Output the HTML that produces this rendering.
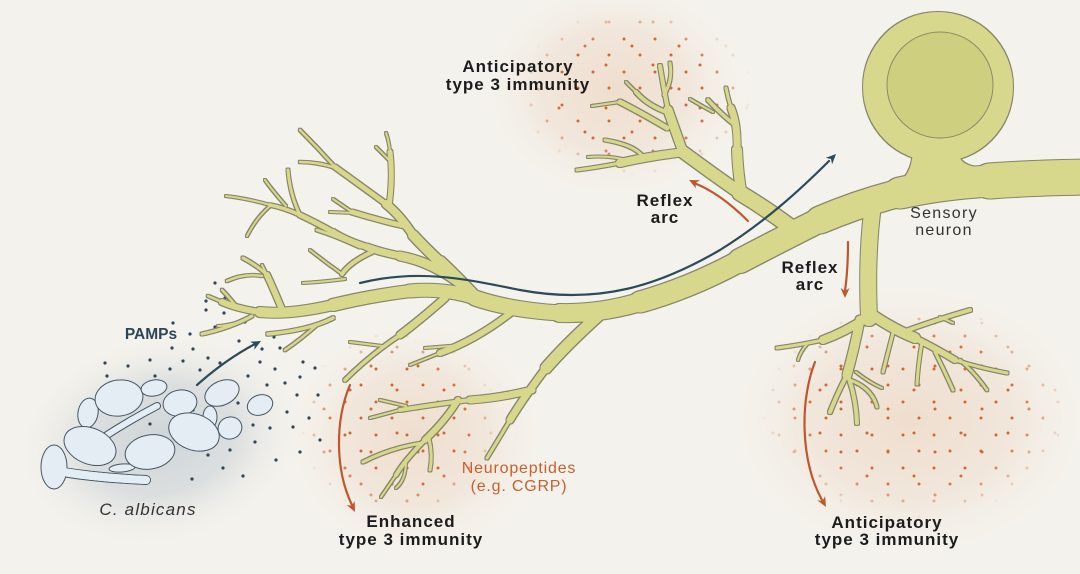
<!DOCTYPE html>
<html>
<head>
<meta charset="utf-8">
<style>
html,body{margin:0;padding:0;background:#f4f2ec;}
svg{display:block;}
.lb{font-family:"Liberation Sans",Arial,sans-serif;font-weight:bold;font-size:17px;fill:#1c1c1c;letter-spacing:1px;}
</style>
</head>
<body>
<svg width="1080" height="574" viewBox="0 0 1080 574" xmlns="http://www.w3.org/2000/svg">
<defs>
  <radialGradient id="gOr">
    <stop offset="0" stop-color="#eedac8" stop-opacity="0.85"/>
    <stop offset="0.55" stop-color="#efdfd0" stop-opacity="0.6"/>
    <stop offset="1" stop-color="#f4f2ec" stop-opacity="0"/>
  </radialGradient>
  <radialGradient id="gGr">
    <stop offset="0" stop-color="#cfd5d8" stop-opacity="1"/>
    <stop offset="0.5" stop-color="#d6dbdc" stop-opacity="0.85"/>
    <stop offset="1" stop-color="#f4f2ec" stop-opacity="0"/>
  </radialGradient>
  <radialGradient id="gMask">
    <stop offset="0" stop-color="#fff"/>
    <stop offset="0.65" stop-color="#fff"/>
    <stop offset="1" stop-color="#000"/>
  </radialGradient>
  <pattern id="dp1" width="31" height="33" patternUnits="userSpaceOnUse">
    <circle cx="4" cy="6" r="1.5" fill="#cf6934"/>
    <circle cx="20" cy="22" r="1.5" fill="#cf6934"/>
  </pattern>
  <pattern id="dp2" width="47" height="43" patternUnits="userSpaceOnUse" patternTransform="translate(9,13)">
    <circle cx="33" cy="9" r="1.5" fill="#cf6934"/>
    <circle cx="12" cy="33" r="1.5" fill="#cf6934"/>
  </pattern>
  <mask id="mTop" maskUnits="userSpaceOnUse" x="0" y="0" width="1080" height="574">
    <ellipse cx="635" cy="92" rx="118" ry="84" fill="url(#gMask)"/>
  </mask>
  <mask id="mEnh" maskUnits="userSpaceOnUse" x="0" y="0" width="1080" height="574">
    <ellipse cx="400" cy="425" rx="100" ry="95" fill="url(#gMask)"/>
  </mask>
  <mask id="mBR" maskUnits="userSpaceOnUse" x="0" y="0" width="1080" height="574">
    <ellipse cx="915" cy="412" rx="155" ry="108" fill="url(#gMask)"/>
  </mask>
  <filter id="outl" x="-5%" y="-5%" width="110%" height="110%">
    <feMorphology in="SourceAlpha" operator="dilate" radius="1" result="d"/>
    <feFlood flood-color="#86866a" result="c"/>
    <feComposite in="c" in2="d" operator="in"/>
  </filter>

  <g id="tree" fill="none" stroke="#d8d88c" stroke-linecap="round" stroke-linejoin="round">
    <circle cx="938" cy="87" r="75" fill="#d8d88c" stroke="none"/>
    <path d="M893,186 Q912,178 913,150 L958,150 Q958,168 985,167 L985,186 Z" fill="#d8d88c" stroke="none"/>
    <path d="M1090,177 Q1030,178 990,181" stroke-width="35"/>
    <path d="M990,181 Q940,184 900,193" stroke-width="31"/>
    <path d="M900,193 Q860,203 820,220" stroke-width="27"/>
    <path d="M820,220 Q780,240 740,261" stroke-width="24"/>
    <path d="M740,261 Q690,288 640,302" stroke-width="21"/>
    <path d="M640,302 Q600,314 560,313" stroke-width="18"/>
    <path d="M560,313 Q510,310 475,298" stroke-width="15"/>
    <path d="M475,298 Q445,288 410,291" stroke-width="13"/>
    <path d="M410,291 Q370,296 333,305" stroke-width="12"/>
    <path d="M333,305 Q290,315 260,312" stroke-width="10"/>
    <path d="M260,312 Q238,309 222,302" stroke-width="6"/>
    <path d="M222,302 L208,296" stroke-width="2.5"/>
    <path d="M236,306 Q228,296 222,290" stroke-width="2.5"/>
    <path d="M252,316 Q230,328 202,334" stroke-width="3"/>
    <path d="M240,322 Q225,326 218,326" stroke-width="2"/>
    <path d="M283,312 Q275,292 267,275" stroke-width="6"/>
    <path d="M267,275 Q258,266 243,258" stroke-width="3"/>
    <path d="M267,275 L262,265" stroke-width="2"/>
    <path d="M262,276 Q245,273 227,281" stroke-width="2.5"/>
    <path d="M333,318 Q310,330 268,334" stroke-width="3.5"/>
    <path d="M318,324 Q300,340 285,350" stroke-width="2.5"/>
    <path d="M472,294 Q455,276 440,262" stroke-width="12"/>
    <path d="M440,262 Q425,248 413,235" stroke-width="10"/>
    <path d="M413,235 Q400,215 386,204" stroke-width="8"/>
    <path d="M386,204 Q360,185 335,167" stroke-width="5"/>
    <path d="M335,167 Q318,148 300,130" stroke-width="2.5"/>
    <path d="M336,168 Q318,162 300,162" stroke-width="2.5"/>
    <path d="M389,206 Q393,178 390,152" stroke-width="5"/>
    <path d="M390,152 Q389,141 386,133" stroke-width="2"/>
    <path d="M391,162 L376,147" stroke-width="2"/>
    <path d="M404,226 Q378,220 352,212" stroke-width="5"/>
    <path d="M352,212 L333,199" stroke-width="2"/>
    <path d="M354,213 L330,212" stroke-width="2"/>
    <path d="M462,285 Q432,262 400,256" stroke-width="9"/>
    <path d="M400,256 Q380,252 367,247" stroke-width="7"/>
    <path d="M367,247 Q345,240 333,232" stroke-width="6"/>
    <path d="M333,232 Q315,222 300,215" stroke-width="5"/>
    <path d="M300,215 Q285,208 270,205" stroke-width="3.5"/>
    <path d="M270,205 Q250,199 226,196" stroke-width="2"/>
    <path d="M300,215 Q290,195 288,170" stroke-width="3"/>
    <path d="M286,206 Q272,190 265,180" stroke-width="2"/>
    <path d="M270,206 Q256,218 247,236" stroke-width="2"/>
    <path d="M360,247 Q336,236 317,230" stroke-width="3"/>
    <path d="M372,252 Q350,262 342,274" stroke-width="4"/>
    <path d="M342,274 Q325,262 310,250" stroke-width="2"/>
    <path d="M345,279 Q322,282 303,283" stroke-width="2"/>
    <path d="M445,298 Q420,320 400,335" stroke-width="7"/>
    <path d="M400,335 Q370,355 345,380" stroke-width="3.5"/>
    <path d="M382,346 L350,342" stroke-width="2"/>
    <path d="M512,312 Q476,340 440,353" stroke-width="6"/>
    <path d="M440,353 L410,365" stroke-width="2"/>
    <path d="M462,345 L425,348" stroke-width="2"/>
    <path d="M598,316 Q566,345 546,368" stroke-width="11"/>
    <path d="M546,368 Q522,400 510,420" stroke-width="7"/>
    <path d="M510,420 Q495,445 487,458" stroke-width="3"/>
    <path d="M532,390 Q500,398 470,400" stroke-width="7"/>
    <path d="M470,400 Q430,405 400,410" stroke-width="4"/>
    <path d="M400,410 L370,418" stroke-width="2"/>
    <path d="M406,406 L380,400" stroke-width="2"/>
    <path d="M458,400 Q446,420 425,440" stroke-width="6"/>
    <path d="M425,440 Q405,460 396,475" stroke-width="4"/>
    <path d="M396,475 L381,497" stroke-width="2"/>
    <path d="M422,443 Q390,448 363,462" stroke-width="3"/>
    <path d="M429,439 Q433,455 430,470" stroke-width="3"/>
    <path d="M406,461 Q406,480 396,488" stroke-width="2"/>
    <path d="M792,228 Q765,208 740,193" stroke-width="15"/>
    <path d="M740,193 Q710,172 683,152" stroke-width="12"/>
    <path d="M742,196 Q738,175 737,150" stroke-width="10"/>
    <path d="M737,150 Q738,125 731,108" stroke-width="7"/>
    <path d="M731,108 Q728,98 726,88" stroke-width="3"/>
    <path d="M735,125 Q722,115 708,100" stroke-width="3.5"/>
    <path d="M713,112 Q700,105 690,99" stroke-width="2"/>
    <path d="M683,152 Q675,130 668,110" stroke-width="9"/>
    <path d="M668,110 Q664,90 660,66" stroke-width="4"/>
    <path d="M664,95 Q673,80 670,63" stroke-width="3"/>
    <path d="M669,113 Q648,106 636,92" stroke-width="4"/>
    <path d="M636,92 L626,82" stroke-width="2"/>
    <path d="M667,128 Q640,112 620,102" stroke-width="5"/>
    <path d="M620,102 L592,106" stroke-width="2"/>
    <path d="M685,152 Q650,156 620,163" stroke-width="8"/>
    <path d="M620,163 Q600,167 577,170" stroke-width="3"/>
    <path d="M643,157 Q635,145 605,140" stroke-width="3"/>
    <path d="M630,161 Q610,155 588,157" stroke-width="2"/>
    <path d="M874,198 Q866,250 869,318" stroke-width="16"/>
    <path d="M866,318 Q845,332 823,340" stroke-width="8"/>
    <path d="M823,340 Q800,345 777,348" stroke-width="3"/>
    <path d="M808,343 Q800,352 798,360" stroke-width="2"/>
    <path d="M860,320 Q854,350 847,375" stroke-width="9"/>
    <path d="M847,375 Q838,392 830,412" stroke-width="4"/>
    <path d="M848,376 Q856,398 857,423" stroke-width="4"/>
    <path d="M850,380 Q872,388 877,407" stroke-width="3"/>
    <path d="M856,372 Q870,383 882,388" stroke-width="2"/>
    <path d="M874,316 Q895,330 915,338" stroke-width="10"/>
    <path d="M915,338 Q935,348 955,360" stroke-width="6"/>
    <path d="M955,360 Q980,368 1007,373" stroke-width="3"/>
    <path d="M900,333 Q935,320 970,310" stroke-width="4"/>
    <path d="M940,317 L953,323" stroke-width="2"/>
    <path d="M893,333 Q888,352 883,372" stroke-width="3"/>
    <path d="M922,342 Q918,365 917,384" stroke-width="3"/>
    <path d="M935,352 Q945,372 953,390" stroke-width="3"/>
    <path d="M960,360 Q975,373 987,390" stroke-width="2.5"/>
  </g>
</defs>

<rect width="1080" height="574" fill="#f4f2ec"/>

<ellipse cx="160" cy="440" rx="150" ry="108" transform="rotate(-12 160 440)" fill="url(#gGr)"/>
<ellipse cx="615" cy="90" rx="135" ry="112" fill="url(#gOr)"/>
<ellipse cx="415" cy="438" rx="132" ry="122" fill="url(#gOr)"/>
<ellipse cx="910" cy="420" rx="185" ry="142" fill="url(#gOr)"/>

<g mask="url(#mTop)"><rect width="1080" height="574" fill="url(#dp1)"/><rect width="1080" height="574" fill="url(#dp2)"/></g>
<g mask="url(#mEnh)"><rect width="1080" height="574" fill="url(#dp1)"/><rect width="1080" height="574" fill="url(#dp2)"/></g>
<g mask="url(#mBR)"><rect width="1080" height="574" fill="url(#dp1)"/><rect width="1080" height="574" fill="url(#dp2)"/></g>

<g fill="#2e4657">
<circle cx="206" cy="301" r="1.6"/><circle cx="224" cy="313" r="1.6"/><circle cx="173" cy="323" r="1.6"/><circle cx="190" cy="334" r="1.6"/><circle cx="215" cy="327" r="1.6"/><circle cx="239" cy="341" r="1.6"/><circle cx="274" cy="337" r="1.6"/><circle cx="172" cy="348" r="1.6"/><circle cx="193" cy="349" r="1.6"/><circle cx="208" cy="358" r="1.6"/><circle cx="183" cy="361" r="1.6"/><circle cx="150" cy="360" r="1.6"/><circle cx="128" cy="366" r="1.6"/><circle cx="105" cy="363" r="1.6"/><circle cx="107" cy="376" r="1.6"/><circle cx="155" cy="376" r="1.6"/><circle cx="170" cy="369" r="1.6"/><circle cx="200" cy="370" r="1.6"/><circle cx="220" cy="363" r="1.6"/><circle cx="248" cy="376" r="1.6"/><circle cx="260" cy="362" r="1.6"/><circle cx="275" cy="369" r="1.6"/><circle cx="285" cy="383" r="1.6"/><circle cx="267" cy="385" r="1.6"/><circle cx="300" cy="377" r="1.6"/><circle cx="315" cy="368" r="1.6"/><circle cx="297" cy="395" r="1.6"/><circle cx="287" cy="412" r="1.6"/><circle cx="309" cy="418" r="1.6"/><circle cx="293" cy="427" r="1.6"/><circle cx="270" cy="428" r="1.6"/><circle cx="253" cy="425" r="1.6"/><circle cx="238" cy="403" r="1.6"/><circle cx="193" cy="410" r="1.6"/><circle cx="150" cy="424" r="1.6"/><circle cx="255" cy="442" r="1.6"/><circle cx="230" cy="450" r="1.6"/><circle cx="208" cy="455" r="1.6"/><circle cx="223" cy="468" r="1.6"/><circle cx="243" cy="476" r="1.6"/><circle cx="192" cy="479" r="1.6"/><circle cx="280" cy="348" r="1.6"/><circle cx="303" cy="362" r="1.6"/><circle cx="206" cy="310" r="1.6"/><circle cx="225" cy="298" r="1.6"/><circle cx="245" cy="322" r="1.6"/><circle cx="262" cy="349" r="1.6"/><circle cx="318" cy="395" r="1.6"/><circle cx="320" cy="440" r="1.6"/><circle cx="300" cy="452" r="1.6"/><circle cx="276" cy="460" r="1.6"/><circle cx="215" cy="283" r="1.6"/>
</g>

<g stroke="#465663" stroke-width="1" fill="#e4edf3">
  <path d="M62,472 Q100,478 146,480" fill="none" stroke="#465663" stroke-width="10" stroke-linecap="round"/>
  <path d="M62,472 Q100,478 146,480" fill="none" stroke="#e4edf3" stroke-width="8" stroke-linecap="round"/>
  <path d="M104,437 Q130,420 157,406" fill="none" stroke="#465663" stroke-width="8" stroke-linecap="round"/>
  <path d="M104,437 Q130,420 157,406" fill="none" stroke="#e4edf3" stroke-width="6" stroke-linecap="round"/>
  <ellipse cx="54" cy="467" rx="13" ry="22"/>
  <path d="M64,472 Q100,478 146,480" fill="none" stroke="#e4edf3" stroke-width="8" stroke-linecap="round"/>
  <ellipse cx="122" cy="468" rx="13" ry="4" transform="rotate(-5 122 468)"/>
  <ellipse cx="88" cy="413" rx="10" ry="15" transform="rotate(10 88 413)"/>
  <ellipse cx="119" cy="398" rx="24" ry="18" transform="rotate(-8 119 398)"/>
  <ellipse cx="154" cy="388" rx="13" ry="8" transform="rotate(-10 154 388)"/>
  <ellipse cx="90" cy="446" rx="27" ry="18" transform="rotate(22 90 446)"/>
  <ellipse cx="150" cy="452" rx="25" ry="17" transform="rotate(-10 150 452)"/>
  <ellipse cx="180" cy="403" rx="17" ry="13" transform="rotate(-10 180 403)"/>
  <ellipse cx="210" cy="417" rx="7" ry="11"/>
  <ellipse cx="194" cy="432" rx="26" ry="18" transform="rotate(20 194 432)"/>
  <ellipse cx="222" cy="393" rx="18" ry="12" transform="rotate(-25 222 393)"/>
  <ellipse cx="230" cy="428" rx="12" ry="11" transform="rotate(-20 230 428)"/>
  <ellipse cx="260" cy="405" rx="13" ry="10" transform="rotate(-20 260 405)"/>
</g>

<use href="#tree" filter="url(#outl)"/>
<use href="#tree"/>
<circle cx="940" cy="85" r="53" fill="#cfd07f" stroke="#8a8a6c" stroke-width="1"/>

<g fill="none" stroke-linecap="round">
  <path d="M360,283 C420,268 470,280 520,290 C600,305 660,285 720,250 C765,222 800,190 829,161" stroke="#2c4a5a" stroke-width="2.2"/>
  <path d="M197,385 Q225,360 255,344" stroke="#2c4a5a" stroke-width="2.2"/>
  <path d="M748,221 Q720,193 694,183" stroke="#c0562b" stroke-width="2.2"/>
  <path d="M848,242 Q848,270 845,291" stroke="#c0562b" stroke-width="2.2"/>
  <path d="M350,385 C335,420 335,470 352,505" stroke="#c0562b" stroke-width="2.2"/>
  <path d="M815,362 C800,400 800,460 822,500" stroke="#c0562b" stroke-width="2.2"/>
</g>
<g>
  <polygon points="836,154 832.1,164.3 831,159 825.7,157.9" fill="#2c4a5a"/>
  <polygon points="261,341 254.3,349.7 254.8,344.3 250.1,341.7" fill="#2c4a5a"/>
  <polygon points="689,180 700,180.3 695.3,183 696,188.4" fill="#c0562b"/>
  <polygon points="845,298 849.5,288 845,291 840.5,288" fill="#c0562b"/>
  <polygon points="355,512 354.7,501 351.9,505.7 346.6,505" fill="#c0562b"/>
  <polygon points="826,507 825.1,496.1 822.6,500.9 817.3,500.4" fill="#c0562b"/>
</g>

<text class="lb" x="518" y="72" text-anchor="middle">Anticipatory</text>
<text class="lb" x="518" y="90" text-anchor="middle">type 3 immunity</text>
<text class="lb" x="665" y="206" text-anchor="middle">Reflex</text>
<text class="lb" x="665" y="223" text-anchor="middle">arc</text>
<text class="lb" x="810" y="273" text-anchor="middle">Reflex</text>
<text class="lb" x="810" y="290" text-anchor="middle">arc</text>
<text class="lb" x="411" y="527" text-anchor="middle">Enhanced</text>
<text class="lb" x="411" y="545" text-anchor="middle">type 3 immunity</text>
<text class="lb" x="887" y="528" text-anchor="middle">Anticipatory</text>
<text class="lb" x="887" y="545" text-anchor="middle">type 3 immunity</text>
<g font-family="'Liberation Sans',Arial,sans-serif" font-size="16" fill="#333" letter-spacing="1.3">
  <text x="944" y="218" text-anchor="middle">Sensory</text>
  <text x="944" y="235" text-anchor="middle">neuron</text>
</g>
<g font-family="'Liberation Sans',Arial,sans-serif" font-size="16" fill="#c8602b" letter-spacing="0.8">
  <text x="519" y="473" text-anchor="middle">Neuropeptides</text>
  <text x="519" y="491" text-anchor="middle">(e.g. CGRP)</text>
</g>
<text x="151" y="339" text-anchor="middle" font-family="'Liberation Sans',Arial,sans-serif" font-weight="bold" font-size="15.5" fill="#2d4657">PAMPs</text>
<text x="148" y="515" text-anchor="middle" font-family="'Liberation Sans',Arial,sans-serif" font-style="italic" font-size="17" fill="#333" letter-spacing="1.2">C. albicans</text>
</svg>
</body>
</html>
